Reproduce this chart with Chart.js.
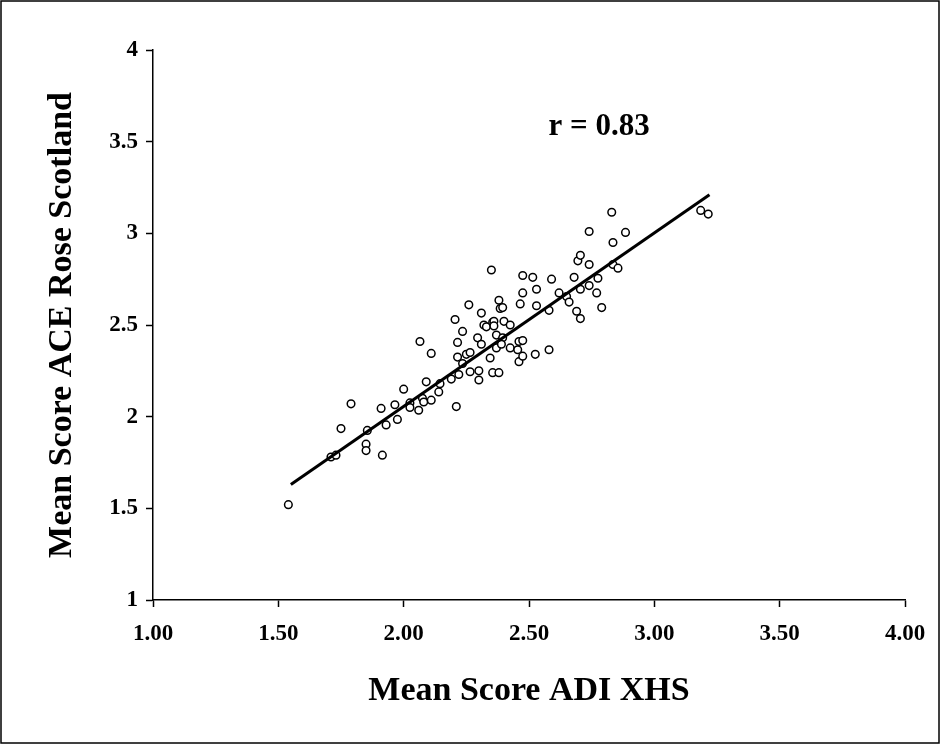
<!DOCTYPE html>
<html>
<head>
<meta charset="utf-8">
<script src="https://cdn.jsdelivr.net/npm/chart.js@4.4.1/dist/chart.umd.min.js"></script>
<style>
    body { margin: 0; background: #fff; }
    canvas { display: block; }
</style>
</head>
<body>
<canvas id="scatterChart" width="941" height="745"></canvas>
<script>

/// DATA ///

const adiScores = [
    1.54, 1.71, 1.73, 1.75, 1.79, 1.855, 1.85, 1.85, 1.915, 1.91,
    1.93, 1.965, 1.975, 2.00, 2.025, 2.025, 2.06, 2.065, 2.075, 2.08,
    2.09, 2.11, 2.11, 2.14, 2.145, 2.19, 2.205, 2.21, 2.22, 2.215,
    2.215, 2.235, 2.235, 2.25, 2.265, 2.26, 2.265, 2.295, 2.30, 2.30,
    2.31, 2.31, 2.32, 2.33, 2.35, 2.345, 2.355, 2.36, 2.355, 2.38,
    2.36, 2.37, 2.37, 2.38, 2.385, 2.395, 2.40, 2.395, 2.39, 2.425,
    2.425, 2.455, 2.46, 2.475, 2.46, 2.475, 2.465, 2.475, 2.475, 2.515,
    2.53, 2.53, 2.525, 2.58, 2.58, 2.59, 2.62, 2.65, 2.66, 2.68,
    2.69, 2.705, 2.695, 2.705, 2.705, 2.74, 2.74, 2.74, 2.77, 2.775,
    2.79, 2.83, 2.835, 2.835, 2.855, 2.885, 3.185, 3.215
];

const aceScores = [
    1.52, 1.78, 1.79, 1.935, 2.07, 1.925, 1.85, 1.815, 1.79, 2.045,
    1.955, 2.065, 1.985, 2.15, 2.075, 2.05, 2.035, 2.41, 2.10, 2.08,
    2.19, 2.09, 2.345, 2.135, 2.18, 2.205, 2.53, 2.055, 2.23, 2.405,
    2.325, 2.465, 2.29, 2.34, 2.35, 2.61, 2.245, 2.43, 2.25, 2.20,
    2.565, 2.395, 2.50, 2.49, 2.80, 2.32, 2.515, 2.52, 2.24, 2.24,
    2.495, 2.445, 2.375, 2.635, 2.59, 2.595, 2.52, 2.43, 2.395, 2.50,
    2.375, 2.365, 2.41, 2.415, 2.30, 2.33, 2.615, 2.77, 2.675, 2.76,
    2.695, 2.605, 2.34, 2.365, 2.58, 2.75, 2.675, 2.655, 2.625, 2.76,
    2.575, 2.535, 2.85, 2.88, 2.695, 3.01, 2.83, 2.715, 2.675, 2.755,
    2.595, 3.115, 2.95, 2.83, 2.81, 3.005, 3.125, 3.105
];

// fitted line, read from the two ends of the drawn line
const trendX = [1.55, 3.22];
const trendY = [1.63, 3.21];

const xTickValues = [1, 1.5, 2, 2.5, 3, 3.5, 4];
const xTickLabels = ['1.00', '1.50', '2.00', '2.50', '3.00', '3.50', '4.00'];
const yTickValues = [1, 1.5, 2, 2.5, 3, 3.5, 4];
const yTickLabels = ['1', '1.5', '2', '2.5', '3', '3.5', '4'];

const annotationText = 'r = 0.83';
const annotationX = 2.78;
const annotationY = 3.58;


/// CHART ///

const serif = '"Liberation Serif", "Times New Roman", serif';

const ctx = document.getElementById('scatterChart').getContext('2d');

// Draws the "r = 0.83" label and the frame round the picture
const extrasPlugin = {
    id: 'extras',
    afterDraw: function(chart) {
        const c = chart.ctx;
        const x = chart.scales.x.getPixelForValue(annotationX);
        const y = chart.scales.y.getPixelForValue(annotationY);
        c.save();
        c.fillStyle = '#000';
        c.font = 'bold 31px ' + serif;
        c.textAlign = 'center';
        c.textBaseline = 'middle';
        c.fillText(annotationText, x, y);

        c.lineWidth = 1.5;
        c.strokeStyle = '#000';
        c.strokeRect(1, 1, chart.width - 3, chart.height - 3);
        c.restore();
    }
};

function pointsFrom(xs, ys) {
    return xs.map((v, i) => ({ x: v, y: ys[i] }));
}

function axisOptions(values, labels, size) {
    return {
        type: 'linear',
        min: values[0],
        max: values[values.length - 1],
        afterBuildTicks: (scale) => {
            scale.ticks = values.map(v => ({ value: v }));
        },
        ticks: {
            color: '#000',
            font: { family: serif, size: 23, weight: 'bold' },
            callback: function(value) {
                const i = values.indexOf(value);
                return i >= 0 ? labels[i] : '';
            }
        },
        grid: {
            drawOnChartArea: false,
            drawTicks: true,
            tickLength: 7,
            tickWidth: 1.5,
            tickColor: '#000'
        },
        border: {
            display: true,
            color: '#000',
            width: 1.5
        },
        afterFit: (scale) => {
            if (scale.isHorizontal()) {
                scale.height = size;
            } else {
                scale.width = size;
            }
        }
    };
}

const xAxis = axisOptions(xTickValues, xTickLabels, 145);
xAxis.ticks.padding = 13;
xAxis.title = {
    display: true,
    text: 'Mean Score ADI XHS',
    color: '#000',
    font: { family: serif, size: 34, weight: 'bold' },
    padding: { top: 0, bottom: 33 }
};

const yAxis = axisOptions(yTickValues, yTickLabels, 153);
yAxis.ticks.padding = 8;
yAxis.title = {
    display: true,
    text: 'Mean Score ACE Rose Scotland',
    color: '#000',
    font: { family: serif, size: 34, weight: 'bold' },
    padding: { top: 42, bottom: 0 }
};

const config = {
    type: 'scatter',
    plugins: [extrasPlugin],
    data: {
        datasets: [
            {
                label: 'Schools',
                data: pointsFrom(adiScores, aceScores),
                pointStyle: 'circle',
                pointRadius: 3.8,
                pointBorderWidth: 1.5,
                borderColor: '#000',
                backgroundColor: '#fff',
                order: 2
            },
            {
                label: 'Fit',
                type: 'line',
                data: pointsFrom(trendX, trendY),
                borderColor: '#000',
                borderWidth: 3,
                pointRadius: 0,
                fill: false,
                order: 1
            }
        ]
    },
    options: {
        responsive: false,
        animation: false,
        layout: {
            padding: { left: 0, top: 50, right: 36, bottom: 0 }
        },
        scales: {
            x: xAxis,
            y: yAxis
        },
        plugins: {
            legend: { display: false },
            tooltip: { enabled: false }
        }
    }
};

const myChart = new Chart(ctx, config);

</script>
</body>
</html>
